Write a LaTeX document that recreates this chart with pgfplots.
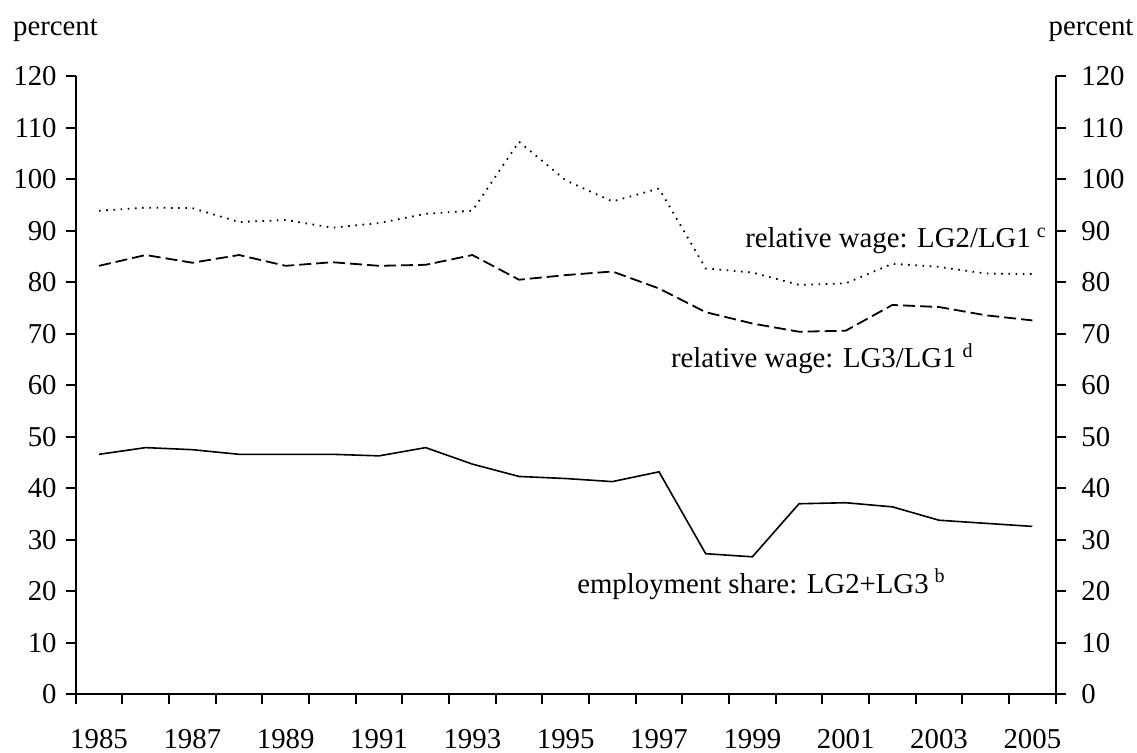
\documentclass[border=0pt]{standalone}
\usepackage{pgfplots}
\pgfplotsset{compat=1.18}
\usepackage{fontspec}
\setmainfont{Liberation Serif}
\newcommand\fs{\fontsize{14.4}{17}\selectfont}

\pgfplotstableread{
i  emp   lg3   lg2
0  46.6  83.2  93.9
1  47.9  85.3  94.5
2  47.5  83.8  94.4
3  46.6  85.3  91.7
4  46.6  83.2  92.1
5  46.6  83.9  90.6
6  46.3  83.2  91.5
7  47.9  83.4  93.3
8  44.7  85.3  93.9
9  42.3  80.5  107.3
10 41.9  81.4  99.8
11 41.3  82.1  95.7
12 43.2  78.8  98.2
13 27.3  74.2  82.7
14 26.7  72.0  81.9
15 37.0  70.4  79.5
16 37.2  70.6  79.8
17 36.4  75.6  83.6
18 33.8  75.2  83.0
19 33.2  73.6  81.7
20 32.6  72.6  81.6
}\data

\begin{document}
\begin{tikzpicture}
\pgfplotsset{
  common/.style={
    at={(0pt,0pt)}, anchor=south west,
    scale only axis, width=490pt, height=309pt,
    xmin=-0.5, xmax=20.5, ymin=0, ymax=120,
    ytick={0,10,...,120},
    tick align=outside,
    major tick length=5pt, minor tick length=5pt,
    tick style={line width=0.9pt, black},
    axis line style={line width=0.9pt},
    ticklabel style={font=\fs},
    /pgf/number format/assume math mode=true,
    clip=false,
  }
}
\begin{axis}[
  common,
  axis x line*=bottom, axis y line*=left,
  xtick={0,2,...,20},
  xticklabels={1985,1987,1989,1991,1993,1995,1997,1999,2001,2003,2005},
  xticklabel style={yshift=-9pt},
  yticklabel style={xshift=-1pt},
  major x tick style={draw=none},
  minor xtick={-0.5,0.5,...,20.5},
]
\addplot[black, line width=0.8pt, solid] table[x=i, y=emp] {\data};
\addplot[black, line width=0.9pt, dash pattern=on 6pt off 2.5pt] table[x=i, y=lg3] {\data};
\addplot[black, line width=0.9pt, dash pattern=on 0.8pt off 2.8pt] table[x=i, y=lg2] {\data};
\node[font=\fs, anchor=base west, inner sep=0pt] at (axis cs:13.84,86.7) {relative wage: LG2/LG1\hspace{3pt}\textsuperscript{c}};
\node[font=\fs, anchor=base west, inner sep=0pt] at (axis cs:12.25,63.4) {relative wage: LG3/LG1\hspace{3pt}\textsuperscript{d}};
\node[font=\fs, anchor=base west, inner sep=0pt] at (axis cs:10.24,19.6) {employment share: LG2+LG3\hspace{3pt}\textsuperscript{b}};
\end{axis}
\begin{axis}[
  common,
  axis y line*=right, axis x line=none,
  yticklabel style={xshift=4.3pt},
]
\end{axis}
\node[font=\fs, anchor=base west, inner sep=0pt] at (-31.5pt,329.65pt) {percent};
\node[font=\fs, anchor=base west, inner sep=0pt] at (486.3pt,329.65pt) {percent};
\pgfresetboundingbox
\path (-37.85pt,-28.85pt) rectangle (530.65pt,347.15pt);
\end{tikzpicture}
\end{document}
